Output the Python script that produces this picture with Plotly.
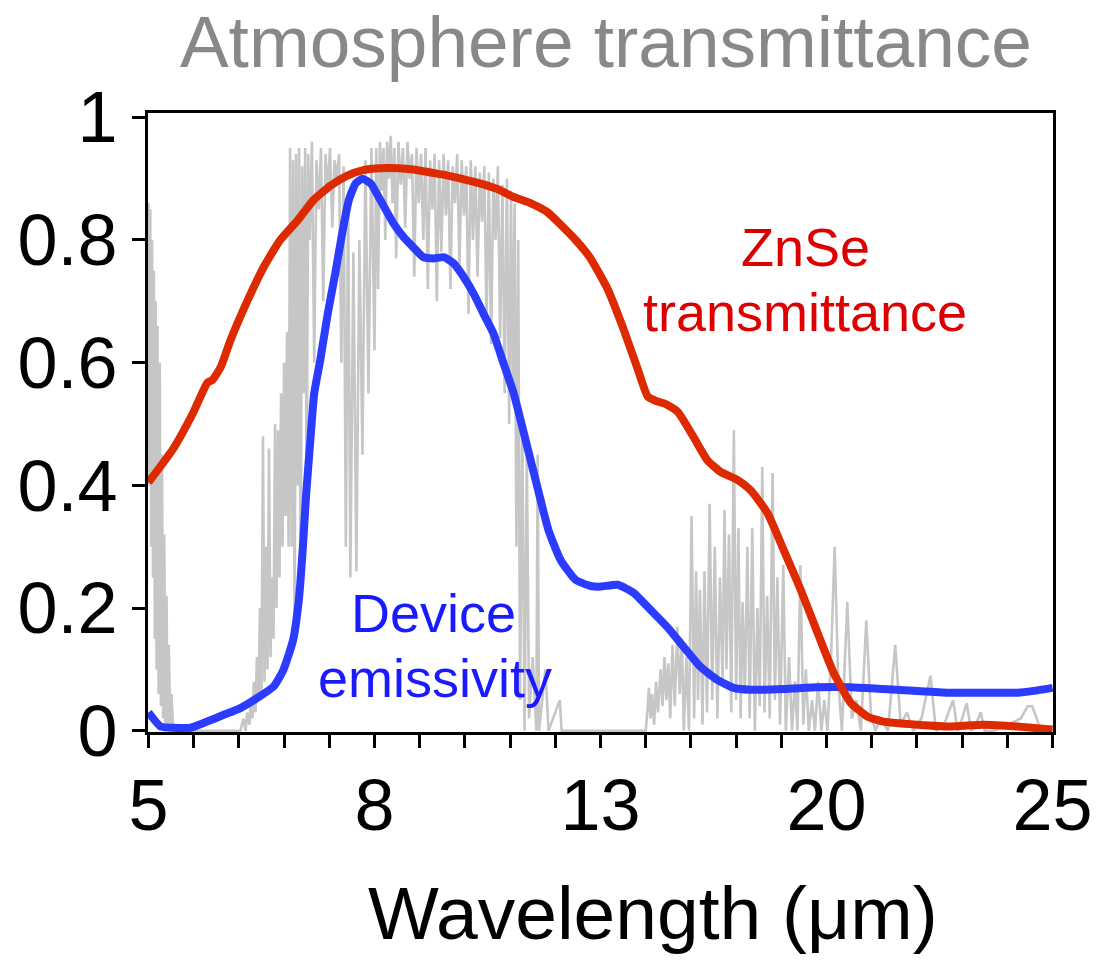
import numpy as np
import plotly.graph_objects as go

# ---- axis label mapping (the x axis has equally spaced labels 5, 8, 13, 20, 25) ----
WL_LABELS = [5, 8, 13, 20, 25]
LABEL_POS = [0, 5, 10, 15, 20]

# ---- ZnSe transmittance (red) ----
znse_wl = [5.00, 5.33, 5.60, 5.78, 5.85, 5.96, 6.09, 6.31, 6.53, 6.75, 6.98, 7.19, 7.42,
           7.64, 7.85, 8.13, 8.51, 8.86, 9.24, 9.62, 9.97, 10.35, 10.72, 11.08, 11.45,
           11.83, 12.05, 12.45, 12.78, 13.22, 13.71, 14.15, 14.46, 14.70, 15.01, 15.39,
           15.88, 16.31, 16.72, 17.24, 17.65, 18.17, 18.67, 19.20, 19.72, 20.16, 20.53,
           20.91, 21.26, 22.01, 22.74, 23.47, 24.23, 25.00]
znse_t = [0.405, 0.46, 0.52, 0.567, 0.572, 0.593, 0.637, 0.70, 0.756, 0.80, 0.832, 0.865,
          0.889, 0.905, 0.914, 0.917, 0.917, 0.915, 0.91, 0.905, 0.899, 0.892, 0.883,
          0.87, 0.86, 0.845, 0.83, 0.80, 0.77, 0.72, 0.655, 0.59, 0.545, 0.538, 0.533,
          0.52, 0.479, 0.441, 0.422, 0.409, 0.392, 0.355, 0.295, 0.23, 0.16, 0.094,
          0.046, 0.023, 0.015, 0.01, 0.007, 0.01, 0.007, 0.002]

# ---- Device emissivity (blue) ----
dev_wl = [5.00, 5.16, 5.33, 5.56, 5.78, 6.00, 6.22, 6.45, 6.66, 6.79, 6.92, 7.00, 7.05,
          7.09, 7.14, 7.20, 7.28, 7.38, 7.48, 7.57, 7.66, 7.75, 7.84, 7.95, 8.13, 8.42,
          8.64, 8.86, 9.08, 9.31, 9.53, 9.75, 9.97, 10.19, 10.41, 10.63, 10.85, 11.08,
          11.23, 11.56, 11.85, 12.12, 12.45, 12.78, 13.00, 13.53, 14.02, 14.55, 15.07,
          15.57, 16.10, 16.62, 17.12, 17.65, 18.67, 19.72, 20.53, 21.26, 22.01, 22.74,
          23.47, 24.23, 24.58, 25.00]
dev_e = [0.03, 0.007, 0.005, 0.005, 0.015, 0.026, 0.037, 0.054, 0.072, 0.099, 0.148,
         0.218, 0.30, 0.38, 0.46, 0.55, 0.604, 0.68, 0.746, 0.81, 0.865, 0.892, 0.90,
         0.892, 0.865, 0.827, 0.805, 0.788, 0.772, 0.770, 0.772, 0.762, 0.74, 0.713,
         0.68, 0.648, 0.60, 0.55, 0.507, 0.41, 0.327, 0.278, 0.246, 0.236, 0.235, 0.238,
         0.225, 0.197, 0.169, 0.137, 0.104, 0.083, 0.07, 0.067, 0.068, 0.071, 0.071,
         0.068, 0.065, 0.062, 0.062, 0.062, 0.065, 0.07]

# ---- Atmosphere transmittance (grey) ----
atm_wl = [5.000, 5.012, 5.024, 5.036, 5.048, 5.060, 5.072, 5.084, 5.096, 5.108, 5.120,
          5.135, 5.150, 5.165, 5.180, 5.195, 5.210, 5.225, 5.240, 5.255, 5.270, 5.290,
          5.305, 5.330, 6.22, 6.26, 6.29, 6.31, 6.34, 6.36, 6.38, 6.40, 6.42, 6.44, 6.46,
          6.48, 6.50, 6.52, 6.54, 6.56, 6.58, 6.60, 6.62, 6.64, 6.66, 6.68, 6.70, 6.72,
          6.74, 6.76, 6.78, 6.80, 6.82, 6.84, 6.86, 6.88, 6.90, 6.92, 6.94, 6.96, 6.98,
          7.00, 7.02, 7.04, 7.06, 7.08, 7.10, 7.12, 7.14, 7.17, 7.20, 7.23, 7.26, 7.29,
          7.32, 7.35, 7.38, 7.41, 7.44, 7.47, 7.50, 7.53, 7.56, 7.59, 7.62, 7.65, 7.68,
          7.72, 7.76, 7.80, 7.84, 7.88, 7.92, 7.96, 8.00, 8.04, 8.08, 8.12, 8.16, 8.20,
          8.24, 8.28, 8.32, 8.36, 8.40, 8.44, 8.48, 8.53, 8.58, 8.63, 8.68, 8.73, 8.78,
          8.83, 8.88, 8.93, 8.98, 9.03, 9.08, 9.13, 9.18, 9.23, 9.28, 9.33, 9.38, 9.43,
          9.48, 9.53, 9.58, 9.63, 9.68, 9.73, 9.78, 9.83, 9.88, 9.93, 9.98, 10.03, 10.08,
          10.13, 10.18, 10.23, 10.28, 10.33, 10.38, 10.43, 10.48, 10.53, 10.58, 10.63,
          10.68, 10.73, 10.78, 10.83, 10.88, 10.93, 10.98, 11.02, 11.06, 11.10, 11.14,
          11.18, 11.22, 11.27, 11.32, 11.37, 11.42, 11.50, 11.58, 11.61, 11.64, 11.78,
          11.85, 12.10, 12.14, 14.20, 14.40, 14.45, 14.50, 14.55, 14.60, 14.66, 14.72,
          14.78, 14.86, 14.92, 14.98, 15.04, 15.10, 15.16, 15.23, 15.30, 15.38, 15.45,
          15.52, 15.58, 15.66, 15.74, 15.82, 15.90, 15.96, 16.02, 16.08, 16.16, 16.22,
          16.30, 16.38, 16.46, 16.54, 16.62, 16.70, 16.78, 16.84, 16.90, 16.98, 17.05,
          17.13, 17.20, 17.27, 17.34, 17.40, 17.47, 17.55, 17.62, 17.70, 17.78, 17.86,
          17.93, 18.01, 18.08, 18.16, 18.24, 18.33, 18.40, 18.48, 18.56, 18.66, 18.74,
          18.84, 18.93, 19.02, 19.10, 19.19, 19.28, 19.36, 19.45, 19.55, 19.64, 19.74,
          19.84, 19.93, 20.02, 20.10, 20.18, 20.26, 20.34, 20.46, 20.56, 20.66, 20.76,
          20.88, 20.98, 21.08, 21.20, 21.36, 21.52, 21.64, 21.78, 21.92, 22.10, 22.30,
          22.42, 22.60, 22.80, 22.90, 23.00, 23.10, 23.20, 23.30, 23.41, 23.50, 23.70,
          24.00, 24.30, 24.45, 24.55, 24.70, 24.85, 25.00]
atm_t = [0.86, 0.40, 0.85, 0.30, 0.80, 0.25, 0.75, 0.15, 0.70, 0.10, 0.66, 0.06, 0.60,
         0.04, 0.45, 0.02, 0.32, 0.01, 0.22, 0.0, 0.14, 0.0, 0.06, 0.0, 0.0, 0.02, 0.0,
         0.03, 0.01, 0.05, 0.02, 0.08, 0.03, 0.12, 0.05, 0.20, 0.06, 0.48, 0.08, 0.30,
         0.10, 0.46, 0.12, 0.25, 0.15, 0.50, 0.20, 0.49, 0.25, 0.55, 0.30, 0.60, 0.35,
         0.65, 0.30, 0.95, 0.30, 0.93, 0.15, 0.94, 0.40, 0.95, 0.20, 0.92, 0.55, 0.95,
         0.35, 0.94, 0.80, 0.96, 0.60, 0.93, 0.85, 0.95, 0.70, 0.94, 0.88, 0.95, 0.82,
         0.93, 0.90, 0.94, 0.60, 0.92, 0.30, 0.88, 0.25, 0.78, 0.26, 0.80, 0.45, 0.93,
         0.55, 0.95, 0.62, 0.95, 0.72, 0.96, 0.88, 0.95, 0.80, 0.96, 0.90, 0.97, 0.86,
         0.95, 0.77, 0.96, 0.89, 0.95, 0.82, 0.96, 0.90, 0.94, 0.74, 0.95, 0.86, 0.94,
         0.80, 0.95, 0.72, 0.93, 0.85, 0.94, 0.70, 0.93, 0.78, 0.94, 0.84, 0.93, 0.72,
         0.92, 0.86, 0.94, 0.76, 0.93, 0.84, 0.92, 0.68, 0.93, 0.80, 0.92, 0.74, 0.91,
         0.83, 0.92, 0.66, 0.91, 0.63, 0.90, 0.80, 0.92, 0.64, 0.89, 0.55, 0.90, 0.50,
         0.88, 0.55, 0.86, 0.30, 0.80, 0.05, 0.50, 0.0, 0.45, 0.02, 0.12, 0.0, 0.45,
         0.0, 0.10, 0.0, 0.05, 0.0, 0.0, 0.0, 0.03, 0.07, 0.02, 0.06, 0.01, 0.08, 0.03,
         0.10, 0.04, 0.12, 0.05, 0.11, 0.02, 0.14, 0.04, 0.17, 0.06, 0.15, 0.0, 0.12,
         0.0, 0.35, 0.02, 0.26, 0.05, 0.23, 0.01, 0.26, 0.03, 0.37, 0.05, 0.30, 0.02,
         0.25, 0.08, 0.36, 0.10, 0.32, 0.03, 0.49, 0.05, 0.33, 0.02, 0.21, 0.06, 0.30,
         0.02, 0.33, 0.0, 0.20, 0.04, 0.43, 0.03, 0.22, 0.02, 0.42, 0.05, 0.25, 0.01,
         0.27, 0.0, 0.12, 0.0, 0.08, 0.0, 0.27, 0.01, 0.10, 0.0, 0.05, 0.0, 0.08, 0.0,
         0.05, 0.0, 0.12, 0.30, 0.08, 0.0, 0.21, 0.02, 0.05, 0.0, 0.18, 0.03, 0.0, 0.02,
         0.0, 0.14, 0.01, 0.03, 0.0, 0.02, 0.09, 0.0, 0.01, 0.05, 0.0, 0.02, 0.045, 0.0,
         0.01, 0.03, 0.0, 0.0, 0.01, 0.02, 0.04, 0.04, 0.01, 0.0, 0.0]

Y_TICKS = [0, 0.2, 0.4, 0.6, 0.8, 1]
Y_TICK_TEXT = ["0", "0.2", "0.4", "0.6", "0.8", "1"]


def to_axis(wl):
    return np.interp(np.asarray(wl, dtype=float), WL_LABELS, LABEL_POS)


FONT = "Liberation Sans, Arial, Helvetica, sans-serif"

fig = go.Figure()
fig.add_trace(go.Scatter(x=to_axis(atm_wl), y=atm_t, mode="lines",
                         line=dict(color="#c6c6c6", width=2.6), name="Atmosphere",
                         showlegend=False))
fig.add_trace(go.Scatter(x=to_axis(dev_wl), y=dev_e, mode="lines",
                         line=dict(color="#2b3cff", width=8, shape="spline", smoothing=0.5),
                         name="Device emissivity", showlegend=False))
fig.add_trace(go.Scatter(x=to_axis(znse_wl), y=znse_t, mode="lines",
                         line=dict(color="#dd2a00", width=8, shape="spline", smoothing=0.5),
                         name="ZnSe transmittance", showlegend=False))

tickvals = list(range(LABEL_POS[0], LABEL_POS[-1] + 1))
ticktext = []
for v in tickvals:
    if v in LABEL_POS:
        ticktext.append(str(WL_LABELS[LABEL_POS.index(v)]))
    else:
        ticktext.append("")

axis_common = dict(showline=True, linecolor="black", linewidth=3, mirror=True,
                   ticks="outside", ticklen=13, tickwidth=3, tickcolor="black",
                   showgrid=False, zeroline=False, automargin=False,
                   tickfont=dict(family=FONT, size=72, color="black"))

fig.update_xaxes(range=[-0.01, 20.01], tickmode="array", tickvals=tickvals,
                 ticktext=ticktext, ticklabelstandoff=-4, **axis_common)
fig.update_yaxes(range=[-0.002, 1.007], tickmode="array", tickvals=Y_TICKS,
                 ticktext=Y_TICK_TEXT, **axis_common)

ann_font_red = dict(family=FONT, size=54, color="#dd0000")
ann_font_blue = dict(family=FONT, size=54, color="#1a1aff")
annotations = [
    dict(text="ZnSe", x=0.726, y=0.783, font=ann_font_red),
    dict(text="transmittance", x=0.726, y=0.679, font=ann_font_red),
    dict(text="Device", x=0.316, y=0.193, font=ann_font_blue),
    dict(text="emissivity", x=0.317, y=0.088, font=ann_font_blue),
    dict(text="Wavelength (μm)", x=0.558, y=-0.292,
         font=dict(family=FONT, size=75, color="black")),
]
for a in annotations:
    a.update(xref="paper", yref="paper", xanchor="center", yanchor="middle",
             showarrow=False)

fig.update_layout(
    width=1102, height=961,
    margin=dict(l=148, r=49, t=113, b=229, autoexpand=False),
    paper_bgcolor="white", plot_bgcolor="white",
    title=dict(text="Atmosphere transmittance", x=0.506, xref="paper", xanchor="center",
               y=1 - 41 / 961, yref="container", yanchor="middle",
               font=dict(family=FONT, size=73, color="#888888")),
    annotations=annotations,
    showlegend=False,
)

fig.write_html("out.html", config={"displayModeBar": False},
               post_script="document.body.style.margin='0px';")
